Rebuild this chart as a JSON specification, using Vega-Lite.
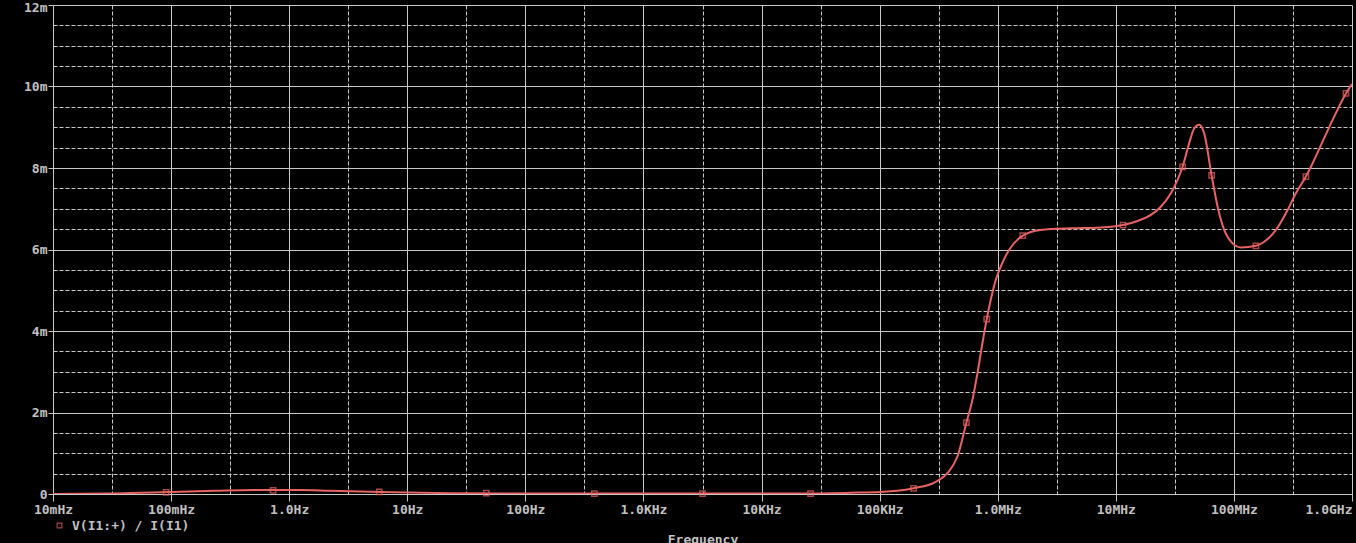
{
  "$schema": "https://vega.github.io/schema/vega-lite/v6.json",
  "width": 1299,
  "height": 489,
  "autosize": "none",
  "padding": {"left": 53, "top": 5, "right": 4, "bottom": 49},
  "background": "#000000",
  "config": {"view": {"stroke": null}},
  "datasets": {
    "curve": [
      {"f": 0.01, "v": 0.0},
      {"f": 0.03, "v": 0.00001},
      {"f": 0.0546, "v": 0.00003},
      {"f": 0.1, "v": 0.00005},
      {"f": 0.236, "v": 0.00008},
      {"f": 0.5, "v": 0.0001},
      {"f": 1.24, "v": 0.0001},
      {"f": 2.22, "v": 0.00008},
      {"f": 5.9, "v": 0.00005},
      {"f": 23.1, "v": 0.00002},
      {"f": 90.7, "v": 0.00001},
      {"f": 1146, "v": 0.00001},
      {"f": 21400, "v": 0.00001},
      {"f": 56800, "v": 0.00003},
      {"f": 101900, "v": 0.00005},
      {"f": 194000, "v": 0.00014},
      {"f": 298300, "v": 0.0003},
      {"f": 374700, "v": 0.00051},
      {"f": 455500, "v": 0.00092},
      {"f": 542900, "v": 0.00175},
      {"f": 610500, "v": 0.00231},
      {"f": 673000, "v": 0.00296},
      {"f": 742000, "v": 0.0037},
      {"f": 807000, "v": 0.00429},
      {"f": 872000, "v": 0.00476},
      {"f": 962000, "v": 0.00525},
      {"f": 1060000, "v": 0.00558},
      {"f": 1247000, "v": 0.00599},
      {"f": 1630000, "v": 0.00634},
      {"f": 2314000, "v": 0.00648},
      {"f": 4200000, "v": 0.00652},
      {"f": 7460000, "v": 0.00654},
      {"f": 11500000, "v": 0.0066},
      {"f": 15280000, "v": 0.0067},
      {"f": 19800000, "v": 0.00685},
      {"f": 24060000, "v": 0.00705},
      {"f": 29250000, "v": 0.00738},
      {"f": 33340000, "v": 0.00771},
      {"f": 36760000, "v": 0.00803},
      {"f": 41800000, "v": 0.00861},
      {"f": 46090000, "v": 0.00897},
      {"f": 50810000, "v": 0.00906},
      {"f": 56020000, "v": 0.00885},
      {"f": 64720000, "v": 0.00782},
      {"f": 72790000, "v": 0.00705},
      {"f": 82750000, "v": 0.00648},
      {"f": 97500000, "v": 0.00615},
      {"f": 114600000, "v": 0.00605},
      {"f": 153600000, "v": 0.00609},
      {"f": 180600000, "v": 0.00619},
      {"f": 227000000, "v": 0.00648},
      {"f": 285000000, "v": 0.00697},
      {"f": 335000000, "v": 0.00738},
      {"f": 407000000, "v": 0.00779},
      {"f": 449000000, "v": 0.00803},
      {"f": 546000000, "v": 0.00856},
      {"f": 686000000, "v": 0.00918},
      {"f": 889000000, "v": 0.00983},
      {"f": 1000000000, "v": 0.01006}
    ],
    "markers": [
      {"f": 0.0908, "v": 0.00004},
      {"f": 0.731, "v": 0.00009},
      {"f": 5.79, "v": 0.00005},
      {"f": 46.7, "v": 0.00002},
      {"f": 384, "v": 0.00001},
      {"f": 3162, "v": 0.00001},
      {"f": 26000, "v": 0.00001},
      {"f": 194000, "v": 0.00014},
      {"f": 542900, "v": 0.00175},
      {"f": 807000, "v": 0.00429},
      {"f": 1630000, "v": 0.00634},
      {"f": 11500000, "v": 0.0066},
      {"f": 36760000, "v": 0.00803},
      {"f": 64720000, "v": 0.00782},
      {"f": 153600000, "v": 0.00609},
      {"f": 407000000, "v": 0.00779},
      {"f": 889000000, "v": 0.00983}
    ]
  },
  "encoding": {
    "x": {
      "field": "f",
      "type": "quantitative",
      "scale": {"type": "log", "domain": [0.01, 1000000000], "nice": false},
      "axis": {
        "title": "Frequency",
        "titleFont": "DejaVu Sans Mono",
        "titleFontSize": 13,
        "titleFontWeight": "bold",
        "titleColor": "#c0c0c0",
        "titlePadding": 17,
        "values": [0.01, 0.031623, 0.1, 0.31623, 1, 3.1623, 10, 31.623, 100, 316.23, 1000, 3162.3, 10000, 31623, 100000, 316228, 1000000, 3162278, 10000000, 31622777, 100000000, 316227766, 1000000000],
        "labelExpr": "abs(log(datum.value)/LN10 - round(log(datum.value)/LN10)) < 0.01 ? ['10mHz','100mHz','1.0Hz','10Hz','100Hz','1.0KHz','10KHz','100KHz','1.0MHz','10MHz','100MHz','1.0GHz'][round(log(datum.value)/LN10) + 2] : ''",
        "labelFont": "DejaVu Sans Mono",
        "labelFontSize": 13,
        "labelFontWeight": "bold",
        "labelColor": "#c0c0c0",
        "labelOverlap": false,
        "labelFlush": false,
        "labelBound": false,
        "labelAlign": {"condition": {"test": "datum.value > 500000000", "value": "right"}, "value": "center"},
        "labelPadding": 2,
        "tickSize": 7,
        "tickColor": "#c8c8c8",
        "tickOpacity": {"condition": {"test": "abs(log(datum.value)/LN10 - round(log(datum.value)/LN10)) < 0.01", "value": 1}, "value": 0},
        "domainColor": "#c8c8c8",
        "grid": true,
        "gridColor": "#c8c8c8",
        "gridWidth": 1,
        "gridDash": {"condition": {"test": "abs(log(datum.value)/LN10 - round(log(datum.value)/LN10)) < 0.01", "value": []}, "value": [4, 2]}
      }
    },
    "y": {
      "field": "v",
      "type": "quantitative",
      "scale": {"domain": [0, 0.012], "nice": false},
      "axis": {
        "title": null,
        "values": [0, 0.0005, 0.001, 0.0015, 0.002, 0.0025, 0.003, 0.0035, 0.004, 0.0045, 0.005, 0.0055, 0.006, 0.0065, 0.007, 0.0075, 0.008, 0.0085, 0.009, 0.0095, 0.01, 0.0105, 0.011, 0.0115, 0.012],
        "labelExpr": "abs(datum.value*500 - round(datum.value*500)) < 0.01 ? (datum.value == 0 ? '0' : round(datum.value*1000) + 'm') : ''",
        "labelFont": "DejaVu Sans Mono",
        "labelFontSize": 13,
        "labelFontWeight": "bold",
        "labelColor": "#c0c0c0",
        "labelOverlap": false,
        "labelFlush": false,
        "labelBound": false,
        "labelOffset": {"condition": {"test": "datum.value > 0.0119", "value": 2}, "value": 0},
        "labelPadding": 1,
        "tickSize": 5,
        "tickColor": "#c8c8c8",
        "tickOpacity": {"condition": {"test": "abs(datum.value*500 - round(datum.value*500)) < 0.01", "value": 1}, "value": 0},
        "domainColor": "#c8c8c8",
        "grid": true,
        "gridColor": "#c8c8c8",
        "gridWidth": 1,
        "gridDash": {"condition": {"test": "abs(datum.value*500 - round(datum.value*500)) < 0.01", "value": []}, "value": [4, 2]}
      }
    }
  },
  "layer": [
    {
      "data": {"name": "curve"},
      "mark": {"type": "line", "interpolate": "monotone", "color": "#e86464", "strokeWidth": 2, "clip": true}
    },
    {
      "data": {"name": "markers"},
      "mark": {"type": "point", "shape": "square", "filled": false, "size": 28, "strokeWidth": 1.5},
      "encoding": {
        "color": {
          "datum": "V(I1:+) / I(I1)",
          "scale": {"range": ["#e86464"]},
          "legend": {
            "title": null,
            "orient": "none",
            "legendX": 0,
            "legendY": 514,
            "labelFont": "DejaVu Sans Mono",
            "labelFontSize": 13,
            "labelFontWeight": "bold",
            "labelColor": "#c0c0c0",
            "symbolType": "square",
            "symbolSize": 22,
            "symbolFillColor": "transparent",
            "symbolStrokeWidth": 1.2,
            "labelOffset": 6
          }
        }
      }
    }
  ]
}
